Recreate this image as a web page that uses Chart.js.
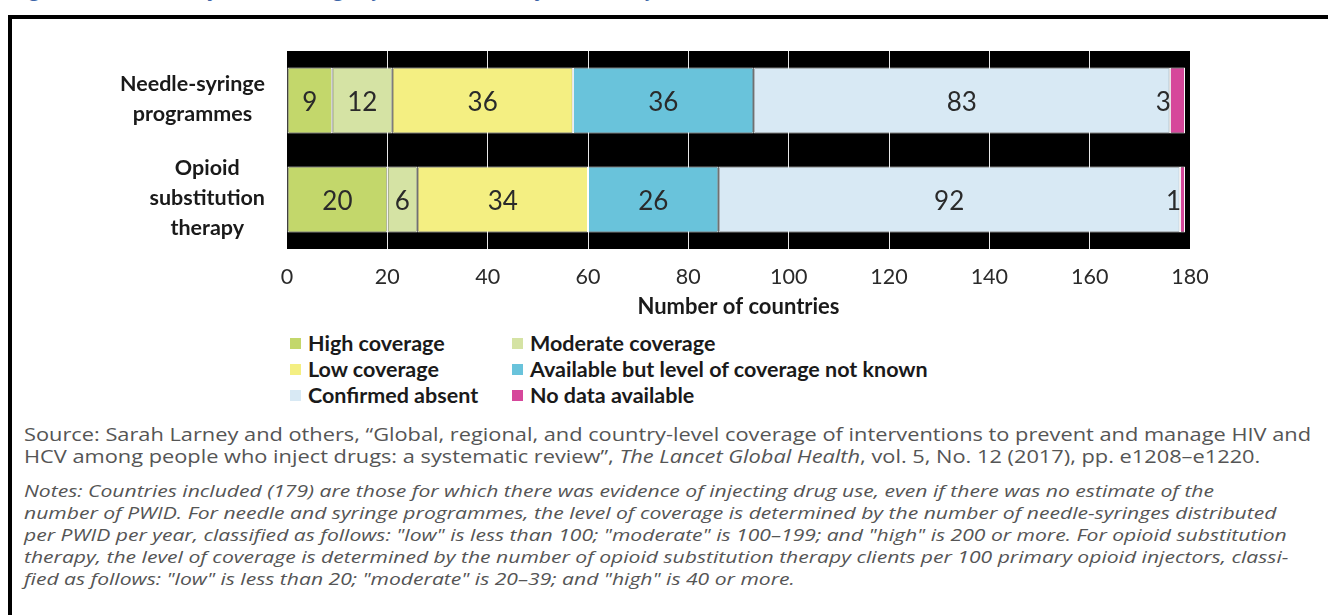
<!DOCTYPE html>
<html><head><meta charset="utf-8">
<script src="https://cdn.jsdelivr.net/npm/chart.js@4.4.1/dist/chart.umd.min.js"></script>
<style>
html,body{margin:0;padding:0;background:#fff;width:1328px;height:615px;overflow:hidden;position:relative;}
#title{position:absolute;left:14px;top:-26px;font:italic 22px/26px "Open Sans";color:#3d66a8;white-space:nowrap;}
#frame{position:absolute;left:8px;top:15px;width:1400px;height:700px;border-left:4px solid #000;border-top:4px solid #000;box-sizing:border-box;}
#chartWrap{position:absolute;left:0;top:0;width:1328px;height:330px;}
.lg{position:absolute;font:bold 21.5px/24px Lato;color:#1a1a1a;white-space:nowrap;}
.sw{position:absolute;left:0;top:7px;width:11px;height:11px;}
.lt{position:absolute;left:18px;top:0;}
.txt{position:absolute;left:24px;white-space:nowrap;color:#555;font-family:"Open Sans";line-height:22px;transform-origin:0 50%;}
.src{font-style:normal;}
.note{font-style:italic;}
</style>
</head><body>
<div id="title">Figure 30. Availability and coverage of interventions, by number of countries, 2017</div>
<div id="frame"></div>
<div id="chartWrap"><canvas id="c" width="1328" height="330"></canvas></div>
<div id="legend"></div>
<div id="texts"></div>
<script>
// ---- data ----
const categories = ["Needle-syringe programmes", "Opioid substitution therapy"];
const categoryLines = [["Needle-syringe", "programmes"], ["Opioid", "substitution", "therapy"]];
const seriesNames = ["High coverage", "Moderate coverage", "Low coverage", "Available but level of coverage not known", "Confirmed absent", "No data available"];
const highCoverage = [9, 20];
const moderateCoverage = [12, 6];
const lowCoverage = [36, 34];
const availableUnknown = [36, 26];
const confirmedAbsent = [83, 92];
const noData = [3, 1];
const xTicks = [0, 20, 40, 60, 80, 100, 120, 140, 160, 180];
const seriesColors = ["#c3d76b", "#d5e3a4", "#f4ef82", "#69c3db", "#d8e9f4", "#d6479b"];

const sourceLines = [
  "Source: Sarah Larney and others, \u201cGlobal, regional, and country-level coverage of interventions to prevent and manage HIV and",
  "HCV among people who inject drugs: a systematic review\u201d, <i>The Lancet Global Health</i>, vol. 5, No. 12 (2017), pp. e1208\u2013e1220."
];
const noteLines = [
  "Notes: Countries included (179) are those for which there was evidence of injecting drug use, even if there was no estimate of the",
  "number of PWID. For needle and syringe programmes, the level of coverage is determined by the number of needle-syringes distributed",
  "per PWID per year, classified as follows: \"low\" is less than 100; \"moderate\" is 100\u2013199; and \"high\" is 200 or more. For opioid substitution",
  "therapy, the level of coverage is determined by the number of opioid substitution therapy clients per 100 primary opioid injectors, classi-",
  "fied as follows: \"low\" is less than 20; \"moderate\" is 20\u201339; and \"high\" is 40 or more."
];

const seriesData = [highCoverage, moderateCoverage, lowCoverage, availableUnknown, confirmedAbsent, noData];

// ---- plugins ----
const bgPlugin = {
  id: 'bg',
  beforeDraw(chart) {
    const {ctx, chartArea: a} = chart;
    ctx.save();
    ctx.fillStyle = '#000';
    ctx.fillRect(a.left, a.top, a.right - a.left, a.bottom - a.top);
    ctx.restore();
  }
};
const valuePlugin = {
  id: 'values',
  afterDatasetsDraw(chart) {
    const ctx = chart.ctx;
    ctx.save();
    ctx.font = '26px Lato';
    ctx.fillStyle = '#2a2a2a';
    ctx.textBaseline = 'middle';
    chart.data.datasets.forEach((ds, di) => {
      const meta = chart.getDatasetMeta(di);
      meta.data.forEach((bar, i) => {
        const v = ds.data[i];
        const p = bar.getProps(['x', 'y', 'base'], true);
        const l = Math.min(p.x, p.base), r = Math.max(p.x, p.base);
        const tw = ctx.measureText(String(v)).width;
        if (tw + 4 > r - l) { ctx.textAlign = 'right'; ctx.fillText(String(v), l + 1, p.y + 2); }
        else { ctx.textAlign = 'center'; ctx.fillText(String(v), (l + r) / 2, p.y + 2); }
      });
    });
    ctx.restore();
  }
};
const yLabelPlugin = {
  id: 'ylabels',
  afterDraw(chart) {
    const ctx = chart.ctx, ys = chart.scales.y, a = chart.chartArea;
    ctx.save();
    ctx.font = 'bold 21.5px Lato';
    ctx.fillStyle = '#1a1a1a';
    ctx.textBaseline = 'middle';
    ctx.textAlign = 'center';
    categoryLines.forEach((lines, i) => {
      const cy = ys.getPixelForValue(i);
      const maxW = Math.max(...lines.map(t => ctx.measureText(t).width));
      const cx = a.left - 22 - maxW / 2;
      const lh = 30;
      lines.forEach((t, k) => {
        ctx.fillText(t, cx, cy - 1 + (k - (lines.length - 1) / 2) * lh);
      });
    });
    ctx.restore();
  }
};

new Chart(document.getElementById('c'), {
  type: 'bar',
  data: {
    labels: categories,
    datasets: seriesNames.map((n, i) => ({
      label: n,
      data: seriesData[i],
      backgroundColor: seriesColors[i],
      borderColor: '#ffffff',
      borderWidth: 1,
      borderSkipped: false,
      categoryPercentage: 1,
      barPercentage: 0.667
    }))
  },
  options: {
    indexAxis: 'y',
    responsive: false,
    animation: false,
    devicePixelRatio: 1,
    layout: {padding: {left: 0, right: 138, top: 51, bottom: 0}},
    plugins: {legend: {display: false}, tooltip: {enabled: false}},
    scales: {
      x: {
        stacked: true, min: 0, max: 180,
        afterBuildTicks(s) { s.ticks = xTicks.map(v => ({value: v})); },
        afterFit(s) { s.height = 81; },
        grid: {
          color: c => (c.tick && (c.tick.value === 0 || c.tick.value === 180)) ? 'rgba(0,0,0,0)' : '#e8e8e8',
          lineWidth: 1, drawTicks: false
        },
        border: {display: false},
        ticks: {font: {family: 'Lato', size: 21.5}, color: '#2a2a2a', padding: 15, maxRotation: 0},
        title: {display: true, text: 'Number of countries', font: {family: 'Lato', size: 22, weight: 'bold'}, color: '#1a1a1a', padding: {top: 0, bottom: 10}}
      },
      y: {
        stacked: true,
        afterFit(s) { s.width = 287; },
        grid: {display: false},
        border: {display: false},
        ticks: {display: false}
      }
    }
  },
  plugins: [bgPlugin, valuePlugin, yLabelPlugin]
});

// ---- legend (HTML) ----
const legendCols = [290, 512];
const legendRows = [343, 369, 395];
const legendEl = document.getElementById('legend');
seriesNames.forEach((n, i) => {
  const d = document.createElement('div');
  d.className = 'lg';
  d.style.left = legendCols[i % 2] + 'px';
  d.style.top = (legendRows[Math.floor(i / 2)] - 12) + 'px';
  d.innerHTML = '<span class="sw" style="background:' + seriesColors[i] + '"></span><span class="lt">' + n + '</span>';
  legendEl.appendChild(d);
});

// ---- source & notes ----
const texts = document.getElementById('texts');
const mc = document.createElement('canvas').getContext('2d');
function fitScale(line, style, size, target) {
  mc.font = style + ' ' + size + 'px "Open Sans"';
  return target / mc.measureText(line).width;
}
const srcSize = 17.5, noteSize = 16.5;
const srcScale = fitScale(sourceLines[0], 'normal', srcSize, 1287);
const noteScale = fitScale(noteLines[0], 'italic', noteSize, 1190);
const srcY = [434, 456];
const noteY = [491, 513, 535, 557, 579];
sourceLines.forEach((t, i) => {
  const d = document.createElement('div');
  d.className = 'txt src';
  d.style.fontSize = srcSize + 'px';
  d.style.top = (srcY[i] - 11) + 'px';
  d.style.transform = 'scaleX(' + srcScale + ')';
  d.innerHTML = t;
  texts.appendChild(d);
});
noteLines.forEach((t, i) => {
  const d = document.createElement('div');
  d.className = 'txt note';
  d.style.fontSize = noteSize + 'px';
  d.style.top = (noteY[i] - 11) + 'px';
  d.style.transform = 'scaleX(' + noteScale + ')';
  d.textContent = t;
  texts.appendChild(d);
});
</script>
</body></html>
